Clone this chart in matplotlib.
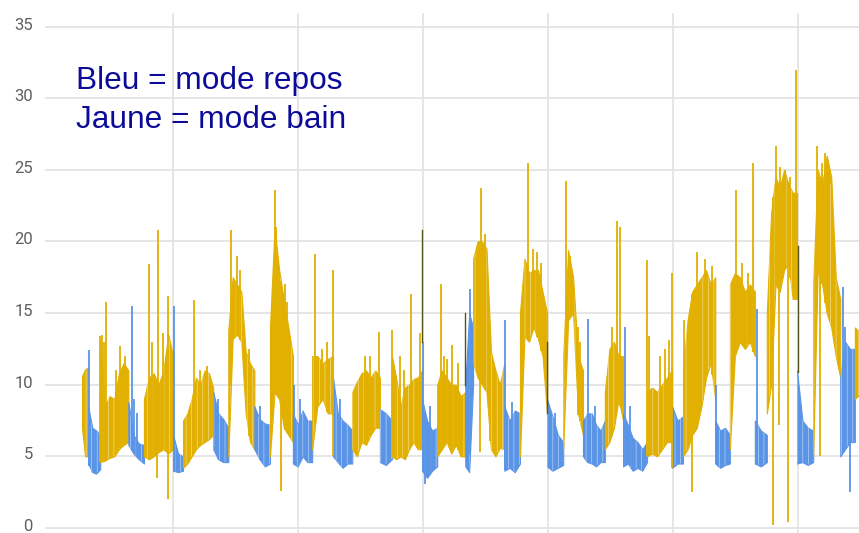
import numpy as np
import matplotlib.pyplot as plt
import matplotlib.transforms as mtransforms

# limites des segments (heures depuis minuit du 1er jour)
bornes = [6.5, 7.7, 10.0, 15.4, 18.4, 24.0, 25.9, 31.7, 34.6, 39.6,
          42.6, 47.0, 50.7, 54.7, 58.4, 63.7, 66.0, 71.8, 74.7, 80.1,
          81.6, 87.6, 90.6, 95.8, 98.9, 102.7, 106.9, 110.4, 115.0, 119.8,
          121.9, 128.1, 130.9, 135.7, 138.0, 143.8, 146.9, 152.1, 154.9, 156.3]

modes = ['bain', 'repos', 'bain', 'repos', 'bain', 'repos', 'bain', 'repos',
         'bain', 'repos', 'bain', 'repos', 'bain', 'repos', 'bain', 'repos',
         'bain', 'repos', 'bain', 'repos', 'bain', 'repos', 'bain', 'repos',
         'bain', 'repos', 'bain', 'repos', 'bain', 'repos', 'bain', 'repos',
         'bain', 'repos', 'bain', 'repos', 'bain', 'repos', 'bain']

# enveloppe basse / haute du trace dans chaque segment
bas = [
    [7.0, 5.0, 5.0], [4.5, 3.9, 3.8, 4.1],
    [4.6, 4.7, 4.9, 5.0, 5.5, 5.8, 6.0], [5.8, 5.2, 4.8, 4.5],
    [5.0, 4.8, 5.0, 5.3, 5.5, 5.2, 5.5], [4.0, 3.9, 4.0],
    [4.2, 4.5, 5.0, 5.5, 5.8, 6.0, 6.2, 6.5], [5.5, 4.8, 4.6, 4.6],
    [5.0, 13.2, 13.5, 13.0, 8.0, 6.0, 5.5], [5.5, 4.8, 4.3, 4.5],
    [5.0, 9.5, 9.0, 7.0, 6.5, 6.0], [4.5, 4.3, 5.0, 4.6, 4.6],
    [5.5, 8.5, 9.0, 8.0, 8.0], [5.0, 4.6, 4.2, 4.5, 4.5],
    [5.5, 5.0, 6.0, 5.8, 6.5, 7.0, 7.0], [4.6, 4.4, 4.8],
    [5.0, 4.8, 5.0, 4.8, 5.5, 6.0, 5.5, 5.5], [4.0, 3.5, 4.0, 4.3],
    [5.0, 5.5, 6.0, 5.2, 5.8, 5.0, 5.0], [4.3, 3.9, 10.0],
    [11.6, 10.5, 10.0, 9.5, 5.5, 5.0, 5.6, 5.5], [4.0, 4.2, 3.9, 4.5],
    [5.0, 13.4, 13.0, 14.0, 13.2, 12.0, 8.0], [4.3, 4.0, 4.2, 4.4],
    [5.5, 14.5, 15.0, 8.0, 6.5], [5.0, 4.6, 4.5, 4.3, 4.6, 4.6],
    [5.5, 6.0, 7.0, 9.0, 7.5], [4.3, 4.5, 4.0, 4.2, 4.0, 4.6],
    [5.0, 5.2, 5.0, 5.5, 6.0, 6.0], [4.2, 4.5, 4.5],
    [5.0, 5.5, 6.5, 7.0, 8.5, 10.5, 11.5, 9.0], [4.5, 4.2, 4.4, 4.5],
    [5.5, 12.0, 13.0, 12.5, 13.0, 12.0], [4.5, 4.3, 4.6],
    [8.0, 10.0, 17.0, 16.5, 18.0, 18.5, 16.0, 16.0], [4.5, 4.6, 4.4, 4.6],
    [5.0, 18.0, 17.0, 15.0, 14.0, 12.0, 10.5], [5.0, 5.5, 6.0, 6.0],
    [9.0, 9.5],
]
haut = [
    [10.6, 11.1, 11.2], [8.5, 7.0, 6.8, 6.5],
    [13.0, 8.5, 9.2, 9.0, 10.8, 11.5, 11.0], [8.8, 6.5, 5.9, 5.8],
    [9.0, 10.5, 10.8, 10.0, 11.0, 13.5, 12.0], [6.5, 5.2, 5.0],
    [7.5, 8.0, 9.0, 10.5, 10.0, 11.0, 10.8, 9.8], [9.5, 8.0, 7.6, 7.0],
    [13.8, 17.5, 17.0, 16.5, 12.3, 11.5, 11.0], [8.5, 7.6, 7.3, 7.2],
    [14.0, 21.0, 18.0, 16.0, 14.0, 12.0], [8.0, 7.2, 8.2, 7.5, 7.5],
    [12.0, 12.0, 11.5, 11.8, 12.0], [10.5, 8.0, 7.5, 7.2, 6.8],
    [9.5, 10.2, 10.8, 11.0, 10.5, 11.0, 10.5], [8.3, 8.0, 7.5],
    [12.0, 10.5, 8.5, 9.8, 10.0, 10.4, 10.5, 11.0], [9.0, 7.5, 6.8, 7.0],
    [10.0, 11.0, 10.5, 10.0, 10.0, 9.2, 9.5], [10.0, 15.0, 14.0],
    [18.8, 20.0, 20.0, 19.5, 12.3, 11.0, 10.0, 11.5], [8.5, 7.5, 8.2, 8.0],
    [15.0, 18.8, 17.8, 18.0, 18.0, 16.5, 15.0], [9.0, 7.8, 6.5, 6.0],
    [12.0, 19.4, 17.5, 12.0, 11.0], [7.5, 8.0, 8.0, 7.2, 6.8, 7.5],
    [9.5, 12.5, 13.0, 12.0, 12.0], [8.0, 7.2, 6.3, 6.0, 5.5, 6.0],
    [9.5, 9.8, 9.5, 10.0, 10.5, 11.0], [8.5, 7.5, 7.8],
    [11.0, 14.5, 16.5, 17.0, 17.5, 18.0, 17.0, 17.5], [7.5, 6.8, 7.0, 6.5],
    [17.0, 17.8, 17.5, 16.5, 17.0, 16.5], [7.5, 6.8, 6.5],
    [15.0, 22.0, 24.5, 23.8, 25.0, 24.0, 23.4, 23.4], [11.0, 7.5, 7.0, 6.8],
    [17.0, 25.0, 24.0, 26.0, 24.5, 17.5, 16.0], [10.5, 13.0, 12.5, 12.5],
    [14.0, 13.5],
]

# grands pics isoles (heure, valeur extreme, mode)
pic_h = [7.9, 10.0, 10.4, 11.1, 13.8, 16.1, 16.5, 19.4, 21.1, 23.0, 20.9, 23.0,
         24.1, 28.0, 35.1, 43.6, 43.8, 44.7, 47.2, 51.3, 54.7, 61.8, 63.6,
         66.0, 69.7, 71.4, 72.0, 72.4, 75.5, 76.1, 77.6, 81.0, 83.1, 82.9,
         87.7, 92.2, 99.5, 103.7, 109.2, 109.8, 110.8, 115.0, 115.3, 119.2,
         119.8, 122.1, 124.6, 123.6, 128.3, 132.1, 135.4, 136.1, 139.8, 139.2,
         142.1, 140.4, 143.6, 147.6, 149.2, 148.2, 152.6, 154.0]
pic_val = [12.4, 13.4, 13.5, 15.8, 12.7, 15.5, 9.0, 18.4, 20.8, 16.2, 3.5, 2.0,
           15.5, 15.9, 20.8, 23.6, 21.0, 2.6, 10.0, 19.1, 18.0, 12.0, 13.7,
           13.8, 16.3, 13.6, 13.0, 3.1, 17.0, 12.0, 12.8, 16.7, 23.7, 5.3,
           14.5, 25.5, 24.2, 14.6, 21.4, 21.0, 14.0, 18.7, 13.4, 13.1,
           17.8, 14.5, 19.3, 2.5, 10.0, 23.6, 25.5, 15.3, 26.7, 0.2,
           0.4, 7.2, 32.0, 26.7, 26.2, 5.0, 16.8, 2.5]
pic_mode = ['repos', 'bain', 'bain', 'bain', 'bain', 'repos', 'repos', 'bain',
            'bain', 'bain', 'bain', 'bain', 'repos', 'bain', 'bain', 'bain',
            'bain', 'bain', 'repos', 'bain', 'bain', 'bain', 'bain', 'bain',
            'bain', 'bain', 'repos', 'repos', 'bain', 'bain', 'bain', 'repos',
            'bain', 'bain', 'repos', 'bain', 'bain', 'repos', 'bain', 'bain',
            'repos', 'bain', 'bain', 'bain', 'bain', 'bain', 'bain', 'bain',
            'repos', 'bain', 'bain', 'repos', 'bain', 'bain', 'bain', 'bain',
            'bain', 'bain', 'bain', 'bain', 'repos', 'repos']

# pics moyens qui dentellent le haut des bandes
pic2_h = [10.8, 13.0, 14.8, 17.0, 20.0, 22.1, 29.2, 30.5, 32.6, 36.3,
          36.9, 38.6, 40.7, 45.5, 45.9, 48.4, 52.6, 53.6, 56.1, 60.9,
          67.6, 68.4, 73.3, 76.6, 78.7, 83.9, 84.9, 89.1, 93.1, 93.9,
          94.7, 97.3, 100.2, 101.8, 102.1, 105.0, 108.3, 111.7, 117.5, 118.5,
          126.1, 127.5, 133.2, 134.4, 140.5, 141.5, 142.5, 148.6, 150.1, 151.1,
          153.0]
pic2_val = [13.0, 11.0, 12.0, 8.0, 13.0, 13.6, 11.0, 11.3, 9.0, 19.0,
            18.0, 12.5, 8.5, 17.0, 15.8, 9.0, 12.5, 13.0, 9.0, 12.0,
            12.0, 11.0, 8.5, 11.8, 11.5, 20.5, 14.0, 8.8, 19.5, 19.3,
            18.5, 8.0, 19.0, 14.0, 13.0, 8.5, 14.0, 8.5, 12.0, 12.5,
            18.8, 18.3, 18.5, 17.8, 25.2, 25.0, 24.5, 25.5, 24.0, 18.5,
            14.0]
pic2_mode = ['bain', 'bain', 'bain', 'repos', 'bain',
             'bain', 'bain', 'bain', 'repos', 'bain',
             'bain', 'bain', 'repos', 'bain', 'bain',
             'repos', 'bain', 'bain', 'repos', 'bain',
             'bain', 'bain', 'repos', 'bain', 'bain',
             'bain', 'bain', 'repos', 'bain', 'bain',
             'bain', 'repos', 'bain', 'bain', 'bain',
             'repos', 'bain', 'repos', 'bain', 'bain',
             'bain', 'bain', 'bain', 'bain', 'bain',
             'bain', 'bain', 'bain', 'bain', 'bain',
             'repos']

# traits sombres (les deux courbes superposees)
sombre_h = [71.8, 80.0, 95.8, 143.9]
sombre_bas = [13.0, 10.0, 8.0, 10.9]
sombre_haut = [20.8, 15.0, 13.0, 19.7]

graduations_y = [0, 5, 10, 15, 20, 25, 30, 35]
jours_h = [24, 48, 72, 96, 120, 144]

couleurs = {'repos': '#5a94e6', 'bain': '#e1b000'}

plt.rcParams['hatch.linewidth'] = 0.5

fig = plt.figure(figsize=(8.59, 5.33), dpi=100)
ax = fig.add_axes([45 / 859, 0, 1 - 45 / 859, 1 - 13 / 533])

env_x, env_bas, env_haut = [], [], []
for k, mode in enumerate(modes):
    xs = np.linspace(bornes[k], bornes[k + 1], len(bas[k]))
    ax.fill_between(xs, bas[k], haut[k], color=couleurs[mode], lw=0.8,
                    edgecolor=couleurs[mode], zorder=3)
    # fines stries blanches pour rendre l'aspect des traits serres
    ax.fill_between(xs, bas[k], haut[k], facecolor='none', edgecolor='#ffffff',
                    hatch='|||', lw=0, alpha=0.55, zorder=3)
    env_x += list(xs)
    env_bas += bas[k]
    env_haut += haut[k]

for h, v, mode in zip(pic_h + pic2_h, pic_val + pic2_val, pic_mode + pic2_mode):
    lo = np.interp(h, env_x, env_bas)
    hi = np.interp(h, env_x, env_haut)
    base = lo if v > hi else hi
    ax.plot([h, h], [base, v], color=couleurs[mode], lw=1.3, zorder=3,
            solid_capstyle='butt')

for h, lo, hi in zip(sombre_h, sombre_bas, sombre_haut):
    ax.plot([h, h], [lo, hi], color='#56541e', lw=1.0, zorder=4)

ax.set_xlim(-0.6, 155.7)
ax.set_ylim(-0.35, 35.95)
ax.set_yticks(graduations_y)
ax.set_xticks(jours_h)
ax.set_xticklabels([])
ax.set_yticklabels([])
ax.grid(color='#e2e2e2', lw=1.2)
ax.set_axisbelow(True)
for s in ax.spines.values():
    s.set_visible(False)
ax.tick_params(length=0)

trans = mtransforms.offset_copy(ax.get_yaxis_transform(), fig=fig,
                                x=-12, y=1.5, units='dots')
for v in graduations_y:
    ax.text(0, v, str(v), transform=trans, ha='right', va='center',
            fontsize=12, color='#5f5f5f', family='Roboto')

fig.text(76 / 859, 1 - 89.3 / 533, "Bleu = mode repos", fontsize=22.8,
         color='#0b0b98', family='Liberation Sans', va='baseline')
fig.text(76 / 859, 1 - 128.3 / 533, "Jaune = mode bain", fontsize=22.8,
         color='#0b0b98', family='Liberation Sans', va='baseline')

fig.savefig('out.png', dpi=100)
